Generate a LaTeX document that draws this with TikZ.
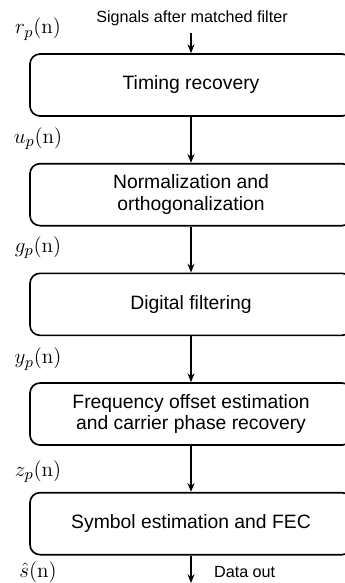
\documentclass[tikz,border=0pt]{standalone}
\usepackage[no-math]{fontspec}
\setmainfont{Liberation Sans}
\usepackage{tikz}
\usetikzlibrary{arrows.meta,positioning}
\definecolor{ink}{HTML}{000000}
\tikzset{
  stagebox/.style={
    rectangle, rounded corners=0.2cm, draw=ink, line width=0.95pt,
    minimum width=6.44cm, minimum height=1.24cm,
    font=\fontsize{11}{12.5}\selectfont, align=center,
    inner sep=2pt
  },
  flowarrow/.style={
    -{Stealth[length=5pt,width=4pt]}, line width=0.8pt, color=ink
  },
  siglabel/.style={font=\fontsize{13}{15}\selectfont, inner sep=0pt},
  notetext/.style={font=\fontsize{9.2}{11}\selectfont, inner sep=1pt},
}
\begin{document}
\begin{tikzpicture}[node distance=0.92cm]
  \useasboundingbox (0,0) rectangle (6.9,-11.66);
  \begin{scope}
  \clip (0,0) rectangle (6.9,-11.66);
  \node[stagebox] at (3.82,-1.70) (b1) {Timing recovery};
  \node[stagebox, below=of b1] (b2) {Normalization and\\orthogonalization};
  \node[stagebox, below=of b2] (b3) {Digital filtering};
  \node[stagebox, below=of b3] (b4) {Frequency offset estimation\\and carrier phase recovery};
  \node[stagebox, below=of b4] (b5) {Symbol estimation and FEC};
  \end{scope}
  % signal names on the left
  \node[siglabel] at ([xshift=-3.06cm, yshift=0.48cm]b1.north) (r) {$r_p(\mathrm{n})$};
  \node[siglabel] at ([xshift=-3.06cm, yshift=0.48cm]b2.north) (u) {$u_p(\mathrm{n})$};
  \node[siglabel] at ([xshift=-3.06cm, yshift=0.50cm]b3.north) (g) {$g_p(\mathrm{n})$};
  \node[siglabel] at ([xshift=-3.06cm, yshift=0.46cm]b4.north) (y) {$y_p(\mathrm{n})$};
  \node[siglabel] at ([xshift=-3.06cm, yshift=0.40cm]b5.north) (z) {$z_p(\mathrm{n})$};
  \node[siglabel] at ([xshift=-3.06cm, yshift=-0.34cm]b5.south) (s) {$\hat{s}(\mathrm{n})$};
  % input and output
  \node[notetext] at (3.84,-0.36) (sig) {Signals after matched filter};
  \node[notetext, anchor=west] at ([xshift=0.42cm, yshift=-0.32cm]b5.south) (dout) {Data out};
  \coordinate (end) at (b5.south |- 0,-11.66);
  \draw[flowarrow] ([yshift=-0.1cm]sig.south -| b1.north) -- (b1.north);
  \foreach \a/\b in {b1/b2,b2/b3,b3/b4,b4/b5} { \draw[flowarrow] (\a.south) -- (\b.north); }
  \draw[flowarrow] (b5.south) -- (end);
\end{tikzpicture}
\end{document}
